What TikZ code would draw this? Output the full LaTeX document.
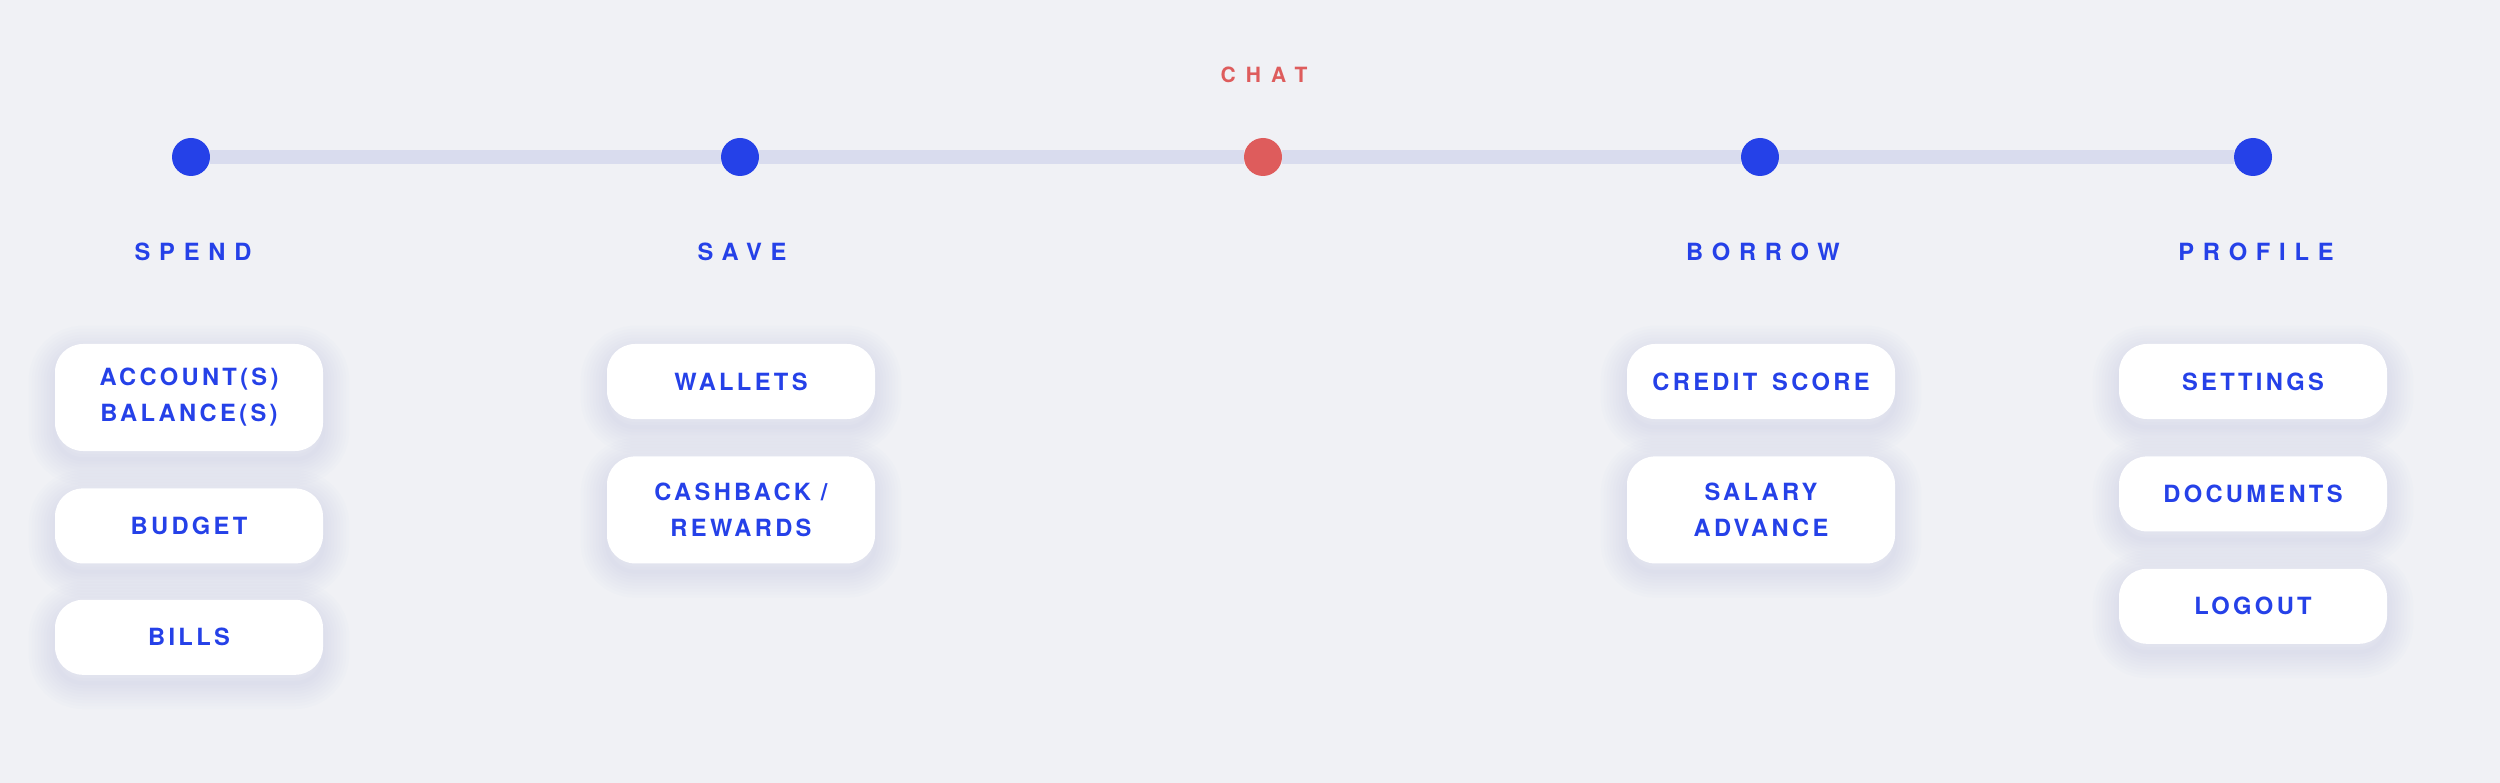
\documentclass[tikz,border=0pt]{standalone}
\usepackage{fontspec}
\setmainfont{TeX Gyre Heros}
\newfontfamily\menufont[LetterSpace=14]{TeX Gyre Heros}
\newfontfamily\tabfont[LetterSpace=37]{TeX Gyre Heros}
\newfontfamily\chatfont[LetterSpace=48]{TeX Gyre Heros}
\usetikzlibrary{positioning,backgrounds}
\definecolor{pagebg}{HTML}{F0F1F5}
\definecolor{navblue}{HTML}{2541E8}
\definecolor{chatred}{HTML}{DE5C5C}
\definecolor{trackgray}{HTML}{D9DCEE}
\definecolor{shadowgray}{HTML}{9AA3CC}

\tikzset{
  navdot/.style={circle, fill=navblue, minimum size=38pt, inner sep=0pt},
  tablbl/.style={text=navblue, inner sep=0pt, font=\tabfont\bfseries\fontsize{23.7}{28}\selectfont},
  menuitem/.style={rounded corners=28pt, fill=white, minimum width=268pt, minimum height=75pt,
    inner sep=0pt, align=center, text=navblue, font=\menufont\bfseries\fontsize{23.7}{36}\selectfont},
  tallitem/.style={menuitem, minimum height=107pt},
}

\begin{document}
\begin{tikzpicture}[x=1pt, y=1pt]
  \useasboundingbox (0,0) rectangle (2500,-783);

  % timeline
  \node[navdot] (spend) at (191,-157) {};
  \node[navdot] (save) at (740,-157) {};
  \node[navdot, fill=chatred] (chat) at (1263,-157) {};
  \node[navdot] (borrow) at (1760,-157) {};
  \node[navdot] (profile) at (2253,-157) {};
  \draw[trackgray, line width=14pt] (spend) -- (save) -- (chat) -- (borrow) -- (profile);

  \node[tablbl, text=chatred, font=\chatfont\bfseries\fontsize{21}{26}\selectfont] (chatlbl) at (1264,-75) {CHAT};
  \node[tablbl] (spendlbl) at (193,-252) {SPEND};
  \node[tablbl] (savelbl) at (742,-252) {SAVE};
  \node[tablbl] (borrowlbl) at (1763,-252) {BORROW};
  \node[tablbl] (profilelbl) at (2256,-252) {PROFILE};

  % spend
  \node[tallitem] (accounts) at (189,-397.5) {ACCOUNT(S)\\BALANCE(S)};
  \node[menuitem, below=37pt of accounts] (budget) {BUDGET};
  \node[menuitem, below=36pt of budget] (bills) {BILLS};

  % save
  \node[menuitem] (wallets) at (741,-381.5) {WALLETS};
  \node[tallitem, below=37pt of wallets] (cashback) {CASHBACK /\\REWARDS};

  % borrow
  \node[menuitem] (credit) at (1761,-381.5) {CREDIT\hspace{5pt} SCORE};
  \node[tallitem, below=37pt of credit] (salary) {SALARY\\ADVANCE};

  % profile
  \node[menuitem] (settings) at (2253,-381.5) {SETTINGS};
  \node[menuitem, below=37pt of settings] (documents) {DOCUMENTS};
  \node[menuitem, below=37pt of documents] (logout) {LOGOUT};

  % page and soft shadows
  \begin{scope}[on background layer]
    \fill[pagebg] (0,0) rectangle (2500,-783);
    \foreach \n in {accounts,budget,bills,wallets,cashback,credit,salary,settings,documents,logout}
      \foreach \w in {4,10,...,52}
        \draw[shadowgray, draw opacity=0.022, line width=\w pt, rounded corners=28pt]
          ([yshift=-8pt]\n.north west) rectangle ([yshift=-8pt]\n.south east);
  \end{scope}
\end{tikzpicture}
\end{document}
